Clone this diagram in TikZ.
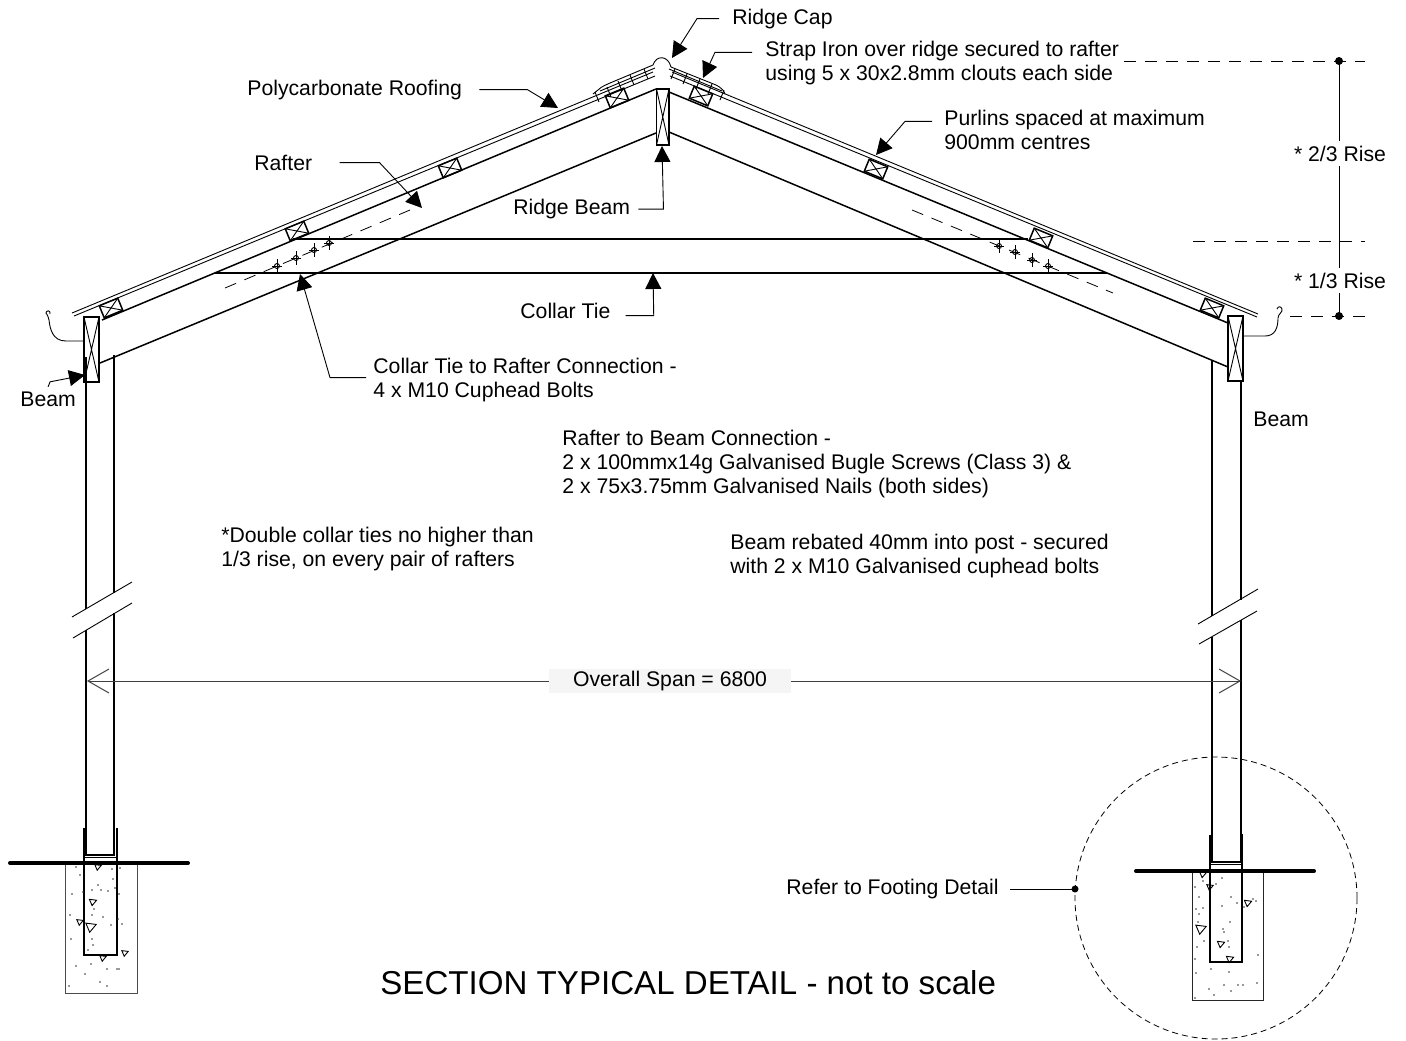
\documentclass[tikz,border=0pt]{standalone}
\usepackage{fontspec}
\setmainfont{Liberation Sans}
\usetikzlibrary{arrows.meta}
\tikzset{
  timber/.style={black, line width=0.75pt},
  thinline/.style={black, line width=0.45pt},
  dashline/.style={black, line width=0.4pt, dash pattern=on 6pt off 4.5pt},
  leader/.style={black, line width=0.45pt, -{Triangle[length=8pt,width=8pt]}},
  spanline/.style={black!75, line width=0.5pt, -{Straight Barb[length=10.5pt,width=12pt]}},
  notelabel/.style={anchor=west, inner sep=0pt, align=left, yshift=-0.3pt, font=\fontsize{10.6}{12}\selectfont},
  purlin/.pic={
    \draw[timber] (-10,-6.5) rectangle (10,6.5);
    \draw[thinline] (-10,-6.5) -- (10,6.5) (-10,6.5) -- (10,-6.5);
  },
  boxbeam/.pic={
    \draw[timber] (0,0) rectangle (15,65);
    \draw[thinline] (0,0) -- (15,65) (15,0) -- (0,65);
  },
  bolt/.pic={
    \draw[thinline] (0,-7) -- (0,7) (-5,0) -- (5,0);
    \draw[thinline] (0,0) circle (2.5);
  }
}
\begin{document}
\begin{tikzpicture}[x=0.5pt,y=-0.5pt]
\useasboundingbox (0,0) rectangle (1406,1040);

\draw[timber] (102,320) -- (656,89);
\draw[timber] (100,363) -- (656,133);
\draw[timber] (669,92) -- (1228,323);
\draw[timber] (669,132) -- (1228,367);
\draw[thinline] (72,313) -- (653,72);
\draw[thinline] (74,316) -- (655,76);
\draw[thinline] (670,76) -- (1257,317);
\draw[thinline] (672,72) -- (1258,314);

\pic[rotate=22.5] at (111,308) {purlin};
\pic[rotate=22.5] at (297,231) {purlin};
\pic[rotate=22.5] at (450,168) {purlin};
\pic[rotate=22.5] at (617,98) {purlin};
\pic[rotate=-22.5] at (701,96) {purlin};
\pic[rotate=-22.5] at (876,169) {purlin};
\pic[rotate=-22.5] at (1041,238) {purlin};
\pic[rotate=-22.5] at (1212,308) {purlin};

\draw[timber] (656.5,89) rectangle (669,145);
\draw[thinline] (656.5,89) -- (669,145) (669,89) -- (656.5,145);
\draw[thinline] (593,94) -- (598,90) .. controls (602,86) and (606,85) .. (610,83) -- (653,65) .. controls (656,55) and (668,55) .. (671,67) -- (716,85) .. controls (720,87) and (724,90) .. (725,94);
\draw[thinline] (600,91) -- (655,68);
\draw[thinline] (669,69) -- (722,91);
\foreach \x/\y in {597/97,609/92,620/86,632/80,646/74} {
  \draw[thinline] (\x-2,\y-5) -- (\x+2,\y+5);
}
\foreach \x/\y in {673/74,685/79,698/84,710/89,722/95} {
  \draw[thinline] (\x+2,\y-5) -- (\x-2,\y+5);
}

\pic at (84,317) {boxbeam};
\pic at (1228,316) {boxbeam};

\draw[timber] (86,357) -- (86,609);
\draw[timber] (86,630) -- (86,855) -- (114,855) -- (114,613);
\draw[timber] (114,593) -- (114,355);
\draw[thinline] (132,582) -- (72,617);
\draw[thinline] (132,603) -- (73,638);
\draw[timber] (1212,360) -- (1212,616);
\draw[timber] (1212,637) -- (1212,862) -- (1241,862) -- (1241,620);
\draw[timber] (1241,600) -- (1241,381);
\draw[thinline] (1258,589) -- (1198,624);
\draw[thinline] (1257,611) -- (1199,644);

\draw[timber] (84,828) -- (84,955) -- (117,955) -- (117,828);
\draw[thinline] (84,857) -- (117,857);
\draw[black!70, line width=0.5pt] (65.5,863) -- (65.5,993) -- (137.5,993) -- (137.5,863);
\draw[black, line width=2pt, line cap=round] (10,863) -- (188,863);
\draw[timber] (1210,835) -- (1210,962) -- (1242,962) -- (1242,834);
\draw[thinline] (1210,864) -- (1242,864);
\draw[black!85, line width=0.5pt] (1192,871) -- (1192,1000) -- (1263,1000) -- (1263,871);
\draw[black, line width=2pt, line cap=round] (1136,871) -- (1314,871);

\foreach \x/\y/\s in {98/867/0.8,93/902/0.9,80/922/0.8,91/927/1.3,125/953/0.8,103/958/0.8,1203/874/0.9,1210/887/0.8,1248/903/0.9,1201/929/1.3,1221/944/0.9,1230/959/0.9} {
  \draw[shift={(\x,\y)}, scale=\s, thinline] (-4,-3) -- (4,-2) -- (-1,4) -- cycle;
}
\foreach \x/\y in {76/867,80/875,98/885,92/890,101/890,108/891,113/879,115/888,119/894,72/894,83/892,94/909,70/915,103/917,92/915,118/919,111/925,122/924,71/939,92/939,93/945,88/950,76/966,91/964,85/974,107/969,117/969,119/969,100/982,107/986,69/986,120/868,112/869,
  1222/878,1216/884,1203/881,1195/887,1199/897,1231/897,1222/906,1237/903,1203/908,1196/909,1199/914,1253/899,1256/901,1244/907,1230/922,1198/922,1223/929,1224/932,1204/941,1228/941,1197/947,1229/947,1195/959,1258/955,1211/969,1229/972,1196/973,1224/985,1238/985,1243/985,1257/983,1209/989,1231/991,1214/995,1195/998} {
  \fill[black!80] (\x,\y) circle (0.8);
}

\draw[timber] (293,239) -- (1028,239);
\draw[timber] (215,273) -- (1107,273);
\draw[dashline] (225,288) -- (410,210);
\draw[dashline] (912,210) -- (1113,293);
\pic at (277,266) {bolt};
\pic at (296,258) {bolt};
\pic at (314,250) {bolt};
\pic at (329,243) {bolt};
\pic at (999,246) {bolt};
\pic at (1015,252) {bolt};
\pic at (1032,260) {bolt};
\pic at (1048,266) {bolt};

\draw[thinline] (84,341) -- (66,341) .. controls (52,341) and (50,328) .. (49,320) .. controls (48,316) and (47,314) .. (46,313) .. controls (46,310) and (51,310) .. (50,314);
\draw[thinline] (1243,336) -- (1265,336) .. controls (1275,336) and (1278,328) .. (1278,318) .. controls (1278,314) and (1283,312) .. (1282,309) .. controls (1281,306) and (1278,306) .. (1277,309);

\draw (732,18) node[notelabel] (ridgecap) {Ridge Cap};
\draw (765,62) node[notelabel] (strapiron) {Strap Iron over ridge secured to rafter\\using 5 x 30x2.8mm clouts each side};
\draw (247,89) node[notelabel] (polyroof) {Polycarbonate Roofing};
\draw (254,162) node[notelabel] (rafter) {Rafter};
\draw (944,129) node[notelabel] (purlins) {Purlins spaced at maximum\\900mm centres};
\draw (513,208.5) node[notelabel] (ridgebeam) {Ridge Beam};
\draw (520,310) node[notelabel] (collartie) {Collar Tie};
\draw (373,379) node[notelabel] (boltnote) {Collar Tie to Rafter Connection -\\4 x M10 Cuphead Bolts};
\draw (20,399) node[notelabel] (beamleft) {Beam};
\draw (1253,419) node[notelabel] (beamright) {Beam};
\draw (562,463) node[notelabel] (screwnote) {Rafter to Beam Connection -\\2 x 100mmx14g Galvanised Bugle Screws (Class 3) \&\\2 x 75x3.75mm Galvanised Nails (both sides)};
\draw (221,548) node[notelabel] (doublenote) {*Double collar ties no higher than\\1/3 rise, on every pair of rafters};
\draw (730,555) node[notelabel] (rebatenote) {Beam rebated 40mm into post - secured\\with 2 x M10 Galvanised cuphead bolts};
\draw (786,888.4) node[notelabel] (footingnote) {Refer to Footing Detail};
\draw (380,983) node[notelabel, yshift=0.3pt, font=\fontsize{16.55}{18}\selectfont] (title) {SECTION TYPICAL DETAIL - not to scale};

\draw[leader] (ridgecap.west) ++(-13,0) -- ++(-22,0) -- (672,58);
\draw[leader] (strapiron.north west) ++(-13,12) -- ++(-37,0) -- (703,78);
\draw[leader] (polyroof.east) ++(17,0) -- ++(48,0) -- (558,108);
\draw[leader] (rafter.east) ++(27,0) -- ++(40,0) -- (422,208);
\draw[leader] (purlins.north west) ++(-12,12) -- ++(-27,0) -- (876,155);
\draw[leader] (ridgebeam.east) ++(8,0) -- ++(25,0) -- (662,146);
\draw[leader] (collartie.east) ++(15,5) -- ++(28,0) -- (653,273);
\draw[leader] (boltnote.west) ++(-7,-2) -- ++(-36,0) -- (300,274);
\draw[leader] (beamleft.north) ++(0,-5) -- ++(2,-5) -- (85,375);
\coordinate (footdot) at (1075,889);
\draw[thinline] (footingnote.east) ++(11,0) -- (footdot);
\fill[black] (footdot) circle (3.5);

\draw[black, line width=0.4pt, dash pattern=on 3pt off 2pt] (1216,898) circle (141);

\coordinate (risetop) at (1339,61);
\coordinate (risebottom) at (1339,316);
\draw (1340,153.5) node[font=\fontsize{10.6}{12}\selectfont, inner xsep=0pt, inner ysep=2pt] (twothirds) {* 2/3 Rise};
\draw (1340,280.5) node[font=\fontsize{10.6}{12}\selectfont, inner xsep=0pt, inner ysep=2pt] (onethird) {* 1/3 Rise};
\draw[thinline] (risetop) -- (risetop |- twothirds.north);
\draw[thinline] (risetop |- twothirds.south) -- (risetop |- onethird.north);
\draw[thinline] (risetop |- onethird.south) -- (risebottom);
\fill[black] (risetop) circle (4);
\fill[black] (risebottom) circle (4);
\draw[dashline] (1124,61) -- (1365,61);
\draw[dashline] (1193,241) -- (1365,241);
\draw[dashline] (1290,316) -- (1365,316);

\coordinate (spanleft) at (87,681);
\coordinate (spanright) at (1241,681);
\draw (670,681) node[fill=black!4, minimum width=121pt, minimum height=12pt, inner sep=0pt, font=\fontsize{10.6}{12}\selectfont] (span) {Overall Span = 6800};
\draw[spanline] (span.west) -- (spanleft);
\draw[spanline] (span.east) -- (spanright);
\end{tikzpicture}
\end{document}
